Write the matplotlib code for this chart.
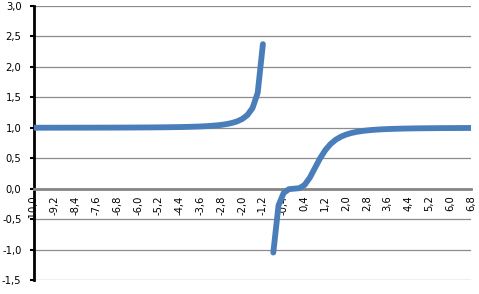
import matplotlib.pyplot as plt
import numpy as np

# categories: -10,0 ... 6,8 with step 0,2 (the value at -1,0 is missing)
x_values = [round(-10 + 0.2 * i, 1) for i in range(85)]
y_values = [
    1.001, 1.001, 1.001, 1.0012, 1.0013, 1.0014, 1.0015, 1.0016, 1.0017, 1.0018,
    1.0020, 1.0021, 1.0023, 1.0025, 1.0027, 1.0029, 1.0032, 1.0035, 1.0038, 1.0042,
    1.0047, 1.0052, 1.0057, 1.0064, 1.0072, 1.0081, 1.0091, 1.0104, 1.0119, 1.0137,
    1.0159, 1.0186, 1.0219, 1.0261, 1.0315, 1.0385, 1.0477, 1.0603, 1.0780, 1.1036,
    1.1429, 1.2070, 1.3230, 1.5734, 2.3736, np.nan, -1.0492, -0.2755, -0.0684, -0.0081,
    0.0, 0.0079, 0.0602, 0.1776, 0.3386, 0.5, 0.6334, 0.7329, 0.8038, 0.8536,
    0.8889, 0.9141, 0.9325, 0.9462, 0.9564, 0.9643, 0.9704, 0.9752, 0.9790, 0.9821,
    0.9846, 0.9867, 0.9884, 0.9898, 0.9910, 0.9921, 0.9929, 0.9937, 0.9943, 0.9949,
    0.9954, 0.9958, 0.9962, 0.9965, 0.9968,
]
x_labels = x_values[::4]
y_ticks = [-1.5, -1.0, -0.5, 0.0, 0.5, 1.0, 1.5, 2.0, 2.5, 3.0]

fig = plt.figure(figsize=(4.79, 2.94), dpi=100)
ax = fig.add_axes([34 / 479, 14 / 294, 437 / 479, 274 / 294])

ax.plot(x_values, y_values, color='#4a7ebb', linewidth=4.2,
        solid_capstyle='round', solid_joinstyle='round', zorder=3)

# x axis crosses at y = 0, set before the tick labels
ax.spines['bottom'].set_position(('data', 0))
ax.spines['bottom'].set_color('#868686')
ax.spines['bottom'].set_linewidth(2)
ax.spines['left'].set_color('black')
ax.spines['left'].set_linewidth(2)
ax.spines['top'].set_visible(False)
ax.spines['right'].set_visible(False)

ax.set_xlim(-10, 6.8)
ax.set_ylim(-1.5, 3.0)

ax.set_yticks(y_ticks)
ax.set_yticklabels([f"{v:.1f}".replace('.', ',') for v in y_ticks], fontsize=7.2)
ax.set_xticks(x_labels)
ax.set_xticklabels([f"{v:.1f}".replace('.', ',') for v in x_labels],
                   rotation=90, fontsize=7.2)

ax.grid(axis='y', color='#8c8c8c', linewidth=0.9)
ax.set_axisbelow(True)

ax.tick_params(axis='x', length=0, pad=5)
ax.tick_params(axis='y', length=3, width=1.5, pad=6, direction='out')

plt.savefig('out.png', dpi=100)
